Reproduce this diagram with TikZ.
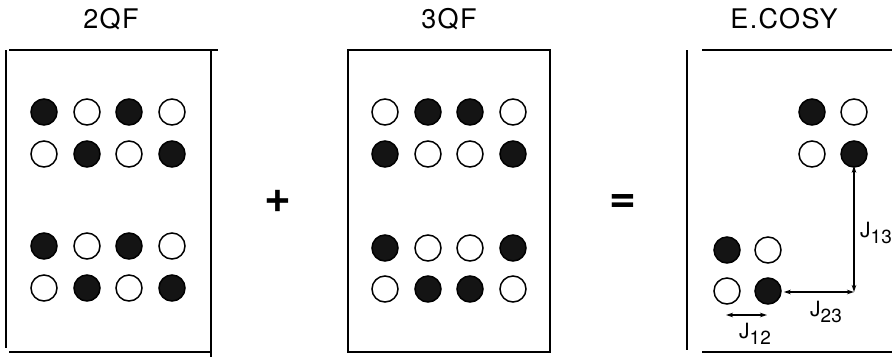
\documentclass[tikz,border=0pt]{standalone}
\usepackage{fontspec}
\setmainfont{TeX Gyre Heros}
\usetikzlibrary{arrows.meta}
\begin{document}
\begin{tikzpicture}[x=1pt,y=-1pt,
  frame/.style={line width=2.4pt},
  spin/.style={circle,draw,line width=1.5pt,minimum size=26pt,inner sep=0pt},
  up/.style={spin,fill=black!92},
  dn/.style={spin,fill=white},
  title/.style={font=\fontsize{27pt}{30pt}\selectfont\addfontfeature{LetterSpace=5}},
  op/.style={font=\bfseries\fontsize{46pt}{46pt}\selectfont,inner sep=0pt},
  jarrow/.style={line width=1.1pt,{Stealth[length=7pt,width=4.5pt]}-{Stealth[length=7pt,width=4.5pt]}},
  jlab/.style={font=\fontsize{21pt}{24pt}\selectfont,inner sep=1pt}
]
\useasboundingbox (0,0) rectangle (893,357);
% titles
\node[title] (t1) at (111,19) {2QF};
\node[title] (t2) at (449,19) {3QF};
\node[title] (t3) at (784,19) {E.COSY};
% frames
\draw[frame] (6,50) -- (6,348);
\draw[frame] (9,50) -- (218,50);
\draw[frame] (211,50) -- (211,357);
\draw[frame] (9,352) -- (210,352);
\draw[frame] (348,50) rectangle (550,352);
\draw[frame] (687,50) -- (687,350);
\draw[frame] (702,50) -- (892,50);
\draw[frame] (702,352) -- (892,352);
% operators
\node[op] (plus) at (278,201) {+};
\node[op] (eq) at (623,203) {=};
% 2QF
\foreach \r/\y/\pa/\pb/\pc/\pd in {1/112/up/dn/up/dn, 2/154/dn/up/dn/up, 3/246/up/dn/up/dn, 4/288/dn/up/dn/up}{
  \node[\pa] (a\r1) at (44,\y) {};
  \node[\pb] (a\r2) at (87,\y) {};
  \node[\pc] (a\r3) at (129,\y) {};
  \node[\pd] (a\r4) at (172,\y) {};
}
% 3QF
\foreach \r/\y/\pa/\pb/\pc/\pd in {1/112/dn/up/up/dn, 2/154/up/dn/dn/up, 3/248/up/dn/dn/up, 4/289/dn/up/up/dn}{
  \node[\pa] (b\r1) at (385,\y) {};
  \node[\pb] (b\r2) at (428,\y) {};
  \node[\pc] (b\r3) at (470,\y) {};
  \node[\pd] (b\r4) at (513,\y) {};
}
% E.COSY
\node[up] (e11) at (812,112) {};
\node[dn] (e12) at (854,112) {};
\node[dn] (e21) at (812,154) {};
\node[up] (e22) at (854,154) {};
\node[up] (f11) at (727,250) {};
\node[dn] (f12) at (768,250) {};
\node[dn] (f21) at (727,291) {};
\node[up] (f22) at (768,291) {};
\coordinate (corner) at (854,292);
\coordinate (j12a) at (726,315);
\coordinate (j12b) at (767,315);
\draw[jarrow] ([yshift=2pt]e22.south) -- (corner);
\draw[jarrow] (corner) -- ([xshift=2pt]f22.east |- corner);
\draw[jarrow] (j12a) -- (j12b);
\node[jlab] (l13) at (876,233) {J\raisebox{-6pt}{\fontsize{19pt}{19pt}\selectfont 13}};
\node[jlab] (l23) at (826,312) {J\raisebox{-6pt}{\fontsize{19pt}{19pt}\selectfont 23}};
\node[jlab] (l12) at (755,334) {J\raisebox{-6pt}{\fontsize{19pt}{19pt}\selectfont 12}};
\end{tikzpicture}
\end{document}
